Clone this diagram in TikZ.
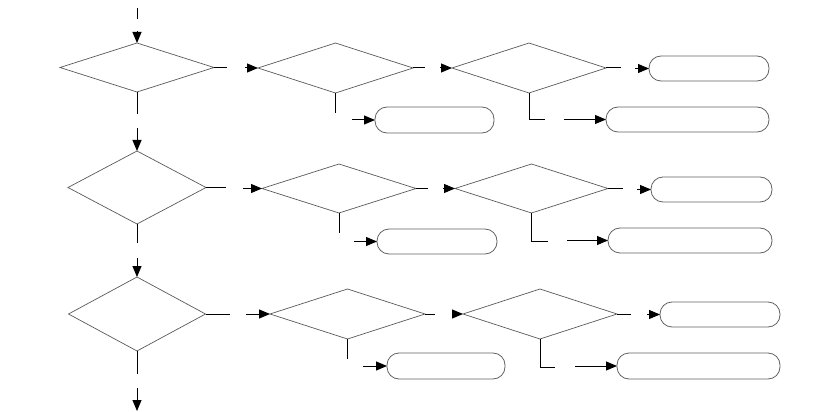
\documentclass[tikz,border=0pt]{standalone}
\usetikzlibrary{shapes.geometric,arrows.meta,calc}
\begin{document}
\begin{tikzpicture}[x=1pt,y=-1pt,
  dia/.style={diamond,draw=black!65,line width=0.7pt,inner sep=0pt,outer sep=0pt},
  term/.style={rectangle,draw=black!62,line width=0.8pt,rounded corners=12pt,inner sep=0pt,outer sep=0pt,minimum height=25pt},
  conn/.style={draw=black,line width=1pt},
  arr/.style={draw=black,line width=1pt,-{Triangle[length=11pt,width=9pt]}}]
\useasboundingbox (0,0) rectangle (823,412);
% row 1
\node[dia,minimum width=154pt,minimum height=49pt] (d11) at (137,67.5) {};
\node[dia,minimum width=155pt,minimum height=50pt] (d12) at (335.5,68) {};
\node[dia,minimum width=154pt,minimum height=50pt] (d13) at (529,68) {};
\node[term,minimum width=120pt] (b11) at (709,68.5) {};
\node[term,minimum width=119pt,minimum height=26pt] (b12) at (434.5,120) {};
\node[term,minimum width=163pt] (b13) at (687.5,119.5) {};
% row 2
\node[dia,minimum width=138pt,minimum height=73pt] (d21) at (137,187.5) {};
\node[dia,minimum width=154pt,minimum height=49pt] (d22) at (339,188.5) {};
\node[dia,minimum width=153pt,minimum height=49pt] (d23) at (531.5,188.5) {};
\node[term,minimum width=121pt] (b21) at (711.5,189.5) {};
\node[term,minimum width=120pt] (b22) at (437,241.5) {};
\node[term,minimum width=164pt] (b23) at (690,240.5) {};
% row 3
\node[dia,minimum width=137pt,minimum height=74pt] (d31) at (137,314) {};
\node[dia,minimum width=155pt,minimum height=50pt] (d32) at (347.5,314) {};
\node[dia,minimum width=154pt,minimum height=50pt] (d33) at (540,314) {};
\node[term,minimum width=120pt] (b31) at (720,314.5) {};
\node[term,minimum width=118pt,minimum height=26pt] (b32) at (446,366) {};
\node[term,minimum width=163pt,minimum height=26pt] (b33) at (698.5,366) {};
\coordinate (start) at (137,8);
\coordinate (stop) at (137,411);
% start
\draw[conn] (start) -- ++(0,11);
\draw[arr] ($(d11.north)+(0,-12)$) -- (d11.north);
% row 1 connectors
\draw[conn] (d11.east) -- ++(13,0);
\draw[arr] ($(d12.west)+(-13,0)$) -- (d12.west);
\draw[conn] (d12.east) -- ++(12,0);
\draw[arr] ($(d13.west)+(-12,0)$) -- (d13.west);
\draw[conn] (d13.east) -- ++(15,0);
\draw[arr] ($(b11.west)+(-14,0)$) -- (b11.west);
\draw[conn] (d12.south) -- ++(0,20);
\draw[arr] ($(b12.west)+(-23,0)$) -- (b12.west);
\draw[conn] (d13.south) |- ++(16,27);
\draw[arr] ($(b13.west)+(-42,0)$) -- (b13.west);
\draw[conn] (d11.south) -- ++(0,22);
\draw[arr] ($(d21.north)+(0,-23)$) -- (d21.north);
% row 2 connectors
\draw[conn] (d21.east) -- ++(20,0);
\draw[arr] ($(d22.west)+(-19,0)$) -- (d22.west);
\draw[conn] (d22.east) -- ++(12,0);
\draw[arr] ($(d23.west)+(-12,0)$) -- (d23.west);
\draw[conn] (d23.east) -- ++(15,0);
\draw[arr] ($(b21.west)+(-14,0)$) -- (b21.west);
\draw[conn] (d22.south) -- ++(0,20);
\draw[arr] ($(b22.west)+(-23,0)$) -- (b22.west);
\draw[conn] (d23.south) |- ++(16,28);
\draw[arr] ($(b23.west)+(-41,0)$) -- (b23.west);
\draw[conn] (d21.south) -- ++(0,19);
\draw[arr] ($(d31.north)+(0,-19)$) -- (d31.north);
% row 3 connectors
\draw[conn] (d31.east) -- ++(24,0);
\draw[arr] ($(d32.west)+(-24,0)$) -- (d32.west);
\draw[conn] (d32.east) -- ++(10,0);
\draw[arr] ($(d33.west)+(-11,0)$) -- (d33.west);
\draw[conn] (d33.east) -- ++(14,0);
\draw[arr] ($(b31.west)+(-13,0)$) -- (b31.west);
\draw[conn] (d32.south) -- ++(0,20);
\draw[arr] ($(b32.west)+(-24,0)$) -- (b32.west);
\draw[conn] (d33.south) |- ++(15,28);
\draw[arr] ($(b33.west)+(-42,0)$) -- (b33.west);
\draw[conn] (d31.south) -- ++(0,23);
\draw[arr] ($(stop)+(0,-23)$) -- (stop);
\end{tikzpicture}
\end{document}
